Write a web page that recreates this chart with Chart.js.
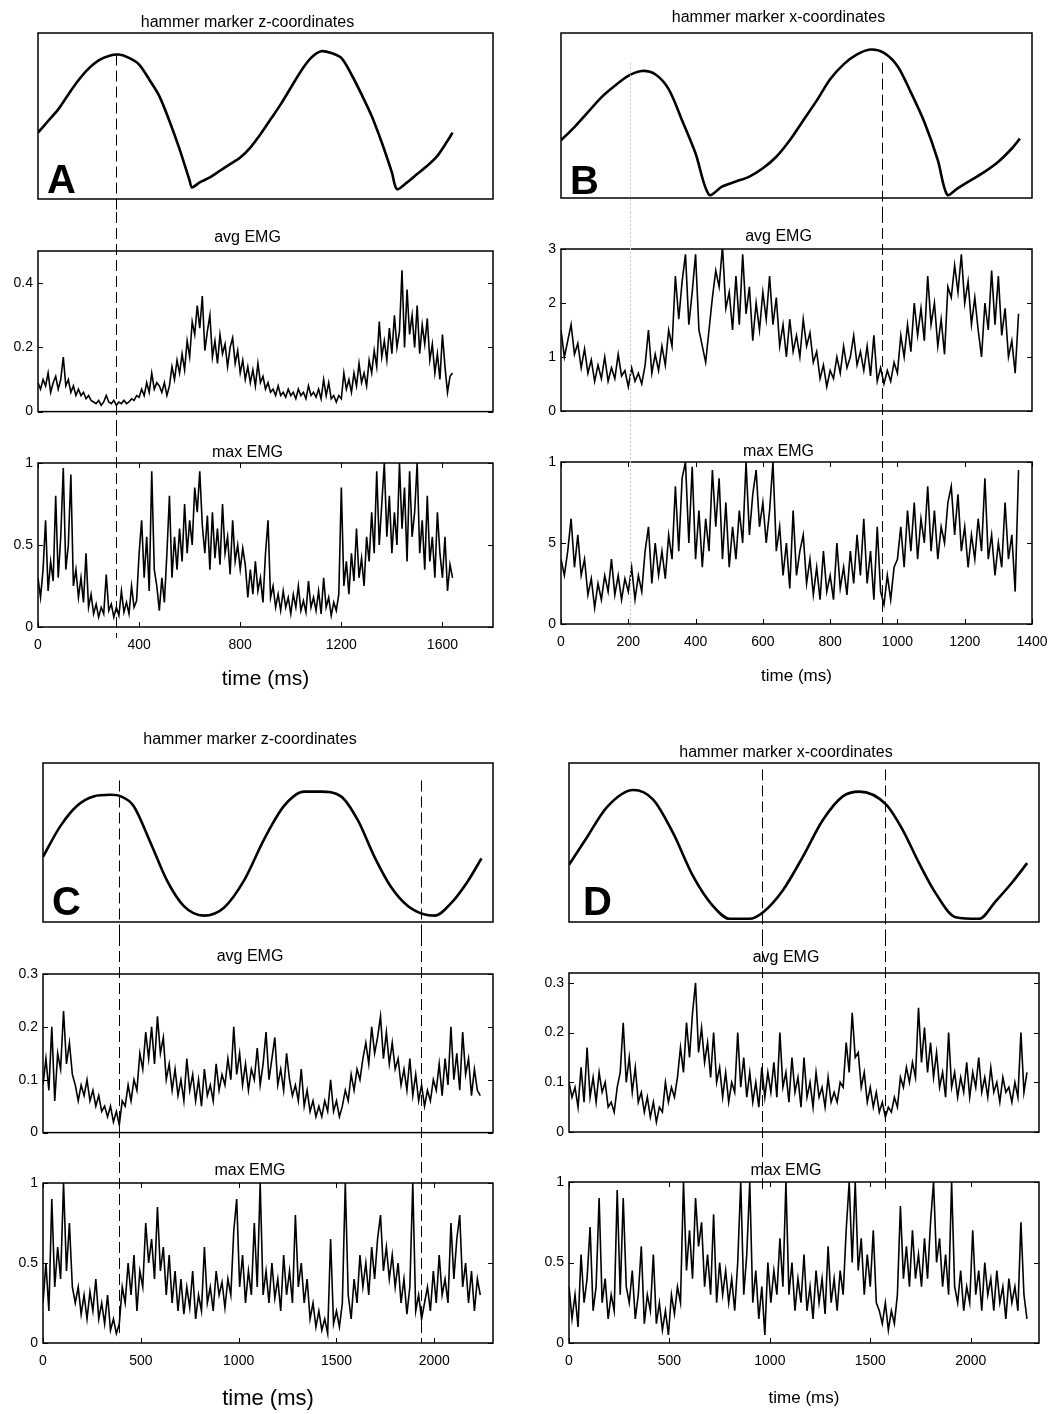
<!DOCTYPE html>
<html>
<head>
<meta charset="utf-8">
<script src="https://cdn.jsdelivr.net/npm/chart.js@4.4.0/dist/chart.umd.min.js"></script>
<style>
html, body { margin: 0; padding: 0; background: #fff; }
#fig { position: relative; width: 1058px; height: 1414px; overflow: hidden; }
canvas { position: absolute; }
</style>
</head>
<body>
<div id="fig"></div>
<script>
// ---- data ----
// A: hammer z-coordinate (normalised 0..1), EMG sampled every 10 ms
const aTopTime = [0,40,80,120,160,200,240,280,320,360,400,440,480,520,560,600,609,640,680,720,760,800,840,880,920,960,1000,1040,1080,1120,1160,1200,1240,1280,1320,1360,1400,1420,1460,1500,1540,1580,1620,1640];
const aTopZ = [0.40,0.47,0.54,0.63,0.715,0.785,0.835,0.862,0.87,0.85,0.81,0.72,0.62,0.47,0.30,0.11,0.07,0.10,0.13,0.17,0.21,0.25,0.31,0.39,0.48,0.57,0.67,0.77,0.85,0.89,0.88,0.85,0.75,0.63,0.50,0.34,0.16,0.06,0.10,0.15,0.20,0.26,0.35,0.40];
const aStep = 10;
const aAvg = [
  0.09,0.07,0.10,0.08,0.12,0.06,0.09,0.11,0.07,0.10,
  0.17,0.08,0.10,0.06,0.08,0.05,0.07,0.05,0.06,0.04,
  0.05,0.035,0.03,0.025,0.035,0.02,0.03,0.05,0.03,0.025,
  0.035,0.02,0.03,0.025,0.035,0.025,0.03,0.04,0.035,0.05,
  0.045,0.07,0.05,0.09,0.06,0.12,0.07,0.09,0.08,0.06,
  0.09,0.05,0.08,0.14,0.10,0.16,0.12,0.18,0.13,0.22,
  0.17,0.28,0.24,0.33,0.26,0.36,0.19,0.25,0.30,0.17,
  0.22,0.15,0.24,0.18,0.21,0.14,0.20,0.23,0.15,0.19,
  0.12,0.16,0.10,0.14,0.09,0.13,0.08,0.15,0.09,0.11,
  0.07,0.09,0.06,0.07,0.05,0.08,0.05,0.06,0.045,0.07,
  0.05,0.06,0.04,0.07,0.05,0.06,0.04,0.08,0.05,0.06,
  0.045,0.07,0.04,0.10,0.05,0.09,0.04,0.05,0.03,0.05,
  0.04,0.12,0.07,0.10,0.06,0.12,0.08,0.15,0.09,0.12,
  0.08,0.16,0.12,0.19,0.14,0.28,0.17,0.22,0.16,0.26,
  0.18,0.30,0.20,0.25,0.44,0.20,0.38,0.24,0.30,0.20,
  0.33,0.18,0.27,0.21,0.29,0.16,0.21,0.12,0.18,0.10,
  0.24,0.14,0.06,0.11,0.12];
const aMax = [
  0.30,0.18,0.35,0.65,0.22,0.40,0.28,0.80,0.30,0.55,
  0.97,0.35,0.50,0.93,0.25,0.35,0.18,0.30,0.15,0.45,
  0.12,0.20,0.08,0.14,0.06,0.12,0.08,0.32,0.10,0.14,
  0.06,0.12,0.07,0.22,0.09,0.15,0.08,0.25,0.12,0.16,
  0.45,0.65,0.30,0.55,0.22,0.95,0.35,0.25,0.10,0.30,
  0.15,0.45,0.80,0.30,0.55,0.35,0.60,0.40,0.75,0.45,
  0.65,0.50,0.85,0.70,0.95,0.62,0.45,0.68,0.35,0.70,
  0.42,0.60,0.38,0.75,0.45,0.55,0.32,0.65,0.40,0.50,
  0.35,0.48,0.38,0.18,0.35,0.20,0.40,0.22,0.30,0.15,
  0.45,0.65,0.18,0.25,0.12,0.20,0.10,0.22,0.12,0.18,
  0.08,0.20,0.12,0.25,0.10,0.16,0.09,0.28,0.12,0.18,
  0.10,0.22,0.08,0.30,0.12,0.18,0.07,0.15,0.10,0.20,
  0.85,0.25,0.40,0.20,0.45,0.28,0.60,0.30,0.42,0.25,
  0.55,0.40,0.70,0.45,0.95,0.50,0.75,1.00,0.55,0.80,
  0.45,0.70,0.50,1.00,0.60,0.85,0.40,0.95,0.55,0.70,
  1.00,0.45,0.65,0.35,0.80,0.40,0.55,0.30,0.70,0.45,
  0.30,0.55,0.22,0.38,0.30];

// B: hammer x-coordinate, EMG every 10 ms
const bTopTime = [0,40,80,120,160,200,240,280,320,360,400,440,480,520,560,600,640,680,720,760,800,840,880,920,960,1000,1040,1080,1120,1148,1180,1220,1260,1300,1340,1364];
const bTopX = [0.35,0.43,0.52,0.61,0.68,0.74,0.77,0.75,0.66,0.47,0.27,0.02,0.07,0.10,0.13,0.18,0.25,0.35,0.47,0.59,0.72,0.81,0.87,0.90,0.88,0.80,0.64,0.46,0.23,0.02,0.06,0.11,0.16,0.22,0.30,0.36];
const bStep = 10;
const bAvg = [
  1.50,1.00,1.30,1.60,1.05,1.25,0.80,1.15,0.70,0.95,
  0.55,0.85,0.60,1.00,0.55,0.80,0.60,1.05,0.65,0.75,
  0.45,0.80,0.55,0.70,0.50,0.85,1.50,0.70,1.05,0.75,
  1.20,0.85,1.50,1.20,2.50,1.70,2.40,2.90,1.60,2.20,
  2.90,1.50,1.20,0.90,1.50,2.10,2.60,2.30,3.05,1.90,
  2.20,1.50,2.50,1.60,2.90,1.80,2.30,1.30,2.00,1.50,
  2.20,1.70,2.50,1.60,2.10,1.20,1.60,1.00,1.70,1.10,
  1.40,1.00,1.70,1.20,1.45,0.90,1.10,0.60,0.85,0.45,
  0.75,0.60,1.00,0.70,1.20,0.80,1.00,1.40,0.85,1.10,
  0.75,1.20,0.65,1.40,0.55,0.80,0.50,0.75,0.55,0.90,
  0.70,1.40,1.00,1.60,1.10,2.00,1.40,1.90,1.30,2.50,
  1.60,2.00,1.20,1.70,1.05,2.30,2.10,2.70,2.20,2.90,
  2.00,2.40,1.60,2.10,1.50,1.00,2.00,1.50,2.60,1.60,
  2.50,1.40,1.90,1.00,1.30,0.70,1.80];
const bMax = [
  0.40,0.30,0.45,0.65,0.35,0.55,0.30,0.40,0.18,0.28,
  0.10,0.25,0.15,0.30,0.20,0.40,0.18,0.30,0.15,0.28,
  0.20,0.35,0.15,0.30,0.20,0.45,0.60,0.25,0.50,0.30,
  0.45,0.28,0.55,0.40,0.85,0.45,0.90,1.00,0.50,0.97,
  0.40,0.70,0.35,0.65,0.45,0.95,0.60,0.90,0.40,0.75,
  0.35,0.60,0.40,0.70,0.50,1.00,0.55,0.80,0.95,0.60,
  0.75,0.50,0.70,1.00,0.45,0.60,0.30,0.50,0.22,0.70,
  0.30,0.45,0.55,0.25,0.40,0.18,0.35,0.15,0.45,0.20,
  0.30,0.15,0.50,0.22,0.35,0.18,0.45,0.25,0.55,0.30,
  0.65,0.25,0.45,0.15,0.60,0.20,0.12,0.30,0.15,0.35,
  0.40,0.60,0.35,0.70,0.45,0.75,0.40,0.65,0.50,0.85,
  0.45,0.70,0.40,0.60,0.50,0.75,0.85,0.55,0.80,0.45,
  0.60,0.35,0.55,0.40,0.65,0.45,0.90,0.40,0.55,0.30,
  0.50,0.35,0.75,0.40,0.55,0.20,0.95];

// C: hammer z-coordinate, EMG every 15 ms
const cTopTime = [0,87,173,258,344,398,463,549,634,720,822,925,1027,1130,1232,1335,1420,1523,1609,1694,1779,1865,1942,2002,2087,2173,2241];
const cTopZ = [0.41,0.60,0.73,0.79,0.80,0.79,0.73,0.50,0.26,0.10,0.04,0.09,0.26,0.52,0.73,0.82,0.82,0.79,0.64,0.41,0.22,0.10,0.05,0.04,0.12,0.26,0.40];
const cStep = 15;
const cAvg = [
  0.09,0.14,0.08,0.20,0.06,0.15,0.12,0.23,0.13,0.17,
  0.11,0.09,0.06,0.09,0.07,0.10,0.06,0.08,0.05,0.07,
  0.04,0.05,0.03,0.05,0.02,0.04,0.015,0.06,0.05,0.09,
  0.06,0.10,0.08,0.15,0.12,0.19,0.14,0.20,0.13,0.22,
  0.15,0.18,0.10,0.13,0.08,0.12,0.07,0.10,0.06,0.14,
  0.08,0.11,0.06,0.10,0.05,0.12,0.07,0.09,0.06,0.13,
  0.08,0.11,0.09,0.14,0.10,0.20,0.11,0.15,0.09,0.13,
  0.08,0.12,0.10,0.16,0.09,0.13,0.19,0.10,0.14,0.18,
  0.09,0.12,0.08,0.15,0.10,0.07,0.09,0.06,0.12,0.05,
  0.08,0.04,0.06,0.03,0.05,0.03,0.06,0.04,0.10,0.04,
  0.06,0.03,0.05,0.08,0.06,0.11,0.08,0.12,0.10,0.14,
  0.17,0.13,0.20,0.15,0.18,0.22,0.14,0.19,0.13,0.17,
  0.12,0.14,0.09,0.12,0.08,0.14,0.07,0.11,0.06,0.09,
  0.05,0.08,0.06,0.10,0.08,0.13,0.07,0.14,0.09,0.20,
  0.10,0.15,0.08,0.19,0.11,0.14,0.07,0.12,0.08,0.07];
const cMax = [
  0.25,0.50,0.20,0.90,0.35,0.60,0.40,1.00,0.45,0.75,
  0.35,0.25,0.35,0.18,0.30,0.15,0.32,0.20,0.40,0.15,
  0.25,0.12,0.30,0.08,0.15,0.06,0.12,0.35,0.25,0.50,
  0.30,0.55,0.20,0.45,0.35,0.75,0.50,0.65,0.40,0.85,
  0.45,0.60,0.30,0.55,0.25,0.45,0.20,0.40,0.18,0.35,
  0.22,0.45,0.15,0.30,0.20,0.60,0.25,0.35,0.20,0.45,
  0.30,0.38,0.22,0.40,0.30,0.70,0.90,0.35,0.55,0.25,
  0.45,0.30,0.75,0.35,1.00,0.30,0.45,0.25,0.50,0.28,
  0.40,0.20,0.55,0.30,0.45,0.25,0.80,0.35,0.50,0.25,
  0.40,0.15,0.25,0.10,0.20,0.08,0.15,0.06,0.65,0.12,
  0.20,0.10,0.25,1.00,0.30,0.15,0.40,0.25,0.55,0.35,
  0.50,0.30,0.60,0.40,0.65,0.80,0.45,0.60,0.40,0.55,
  0.35,0.50,0.25,0.40,0.18,0.35,1.00,0.20,0.30,0.15,
  0.25,0.35,0.20,0.45,0.25,0.55,0.30,0.40,0.25,0.75,
  0.40,0.65,0.80,0.35,0.50,0.25,0.45,0.20,0.40,0.30];

// D: hammer x-coordinate, EMG every 15 ms
const dTopTime = [0,88,187,320,419,518,617,717,800,899,965,1065,1164,1263,1363,1445,1578,1661,1743,1826,1925,2041,2124,2207,2281];
const dTopX = [0.36,0.53,0.72,0.83,0.77,0.56,0.29,0.10,0.02,0.02,0.06,0.20,0.41,0.64,0.79,0.82,0.74,0.58,0.37,0.18,0.03,0.02,0.13,0.25,0.37];
const dStep = 15;
const dAvg = [
  0.10,0.07,0.09,0.05,0.13,0.06,0.17,0.07,0.11,0.06,
  0.12,0.08,0.10,0.05,0.06,0.04,0.09,0.12,0.22,0.10,
  0.15,0.08,0.13,0.06,0.08,0.04,0.07,0.03,0.06,0.02,
  0.05,0.04,0.10,0.06,0.09,0.07,0.11,0.17,0.12,0.22,
  0.15,0.24,0.30,0.16,0.21,0.14,0.18,0.11,0.20,0.10,
  0.13,0.07,0.12,0.06,0.10,0.08,0.20,0.09,0.15,0.07,
  0.12,0.06,0.10,0.05,0.13,0.07,0.12,0.08,0.14,0.07,
  0.20,0.09,0.12,0.06,0.15,0.08,0.11,0.05,0.15,0.07,
  0.10,0.05,0.12,0.07,0.09,0.05,0.11,0.06,0.08,0.06,
  0.10,0.09,0.18,0.12,0.24,0.15,0.16,0.09,0.12,0.06,
  0.09,0.05,0.08,0.04,0.06,0.03,0.05,0.04,0.07,0.05,
  0.11,0.09,0.13,0.10,0.14,0.11,0.25,0.14,0.21,0.12,
  0.18,0.11,0.16,0.09,0.12,0.07,0.20,0.09,0.12,0.07,
  0.11,0.08,0.14,0.07,0.12,0.09,0.15,0.08,0.11,0.07,
  0.13,0.08,0.10,0.06,0.11,0.08,0.09,0.06,0.10,0.07,
  0.20,0.08,0.12];
const dMax = [
  0.35,0.15,0.30,0.10,0.55,0.25,0.40,0.72,0.20,0.35,
  0.90,0.25,0.40,0.15,0.30,0.20,0.95,0.30,0.90,0.35,
  0.25,0.45,0.15,0.30,0.60,0.12,0.30,0.20,0.55,0.12,
  0.25,0.08,0.20,0.05,0.30,0.18,0.35,0.25,1.00,0.45,
  0.70,0.40,0.90,0.60,0.75,0.35,0.55,0.30,0.80,0.25,
  0.50,0.30,0.45,0.25,0.40,0.20,0.50,1.00,0.30,0.55,
  1.00,0.25,0.45,0.15,0.35,0.05,0.50,0.25,0.45,0.30,
  0.65,0.35,1.00,0.30,0.50,0.20,0.40,0.25,0.55,0.20,
  0.35,0.15,0.45,0.25,0.40,0.18,0.60,0.25,0.40,0.20,
  0.45,0.30,0.70,1.00,0.50,1.00,0.45,0.65,0.30,0.55,
  0.35,0.70,0.25,0.20,0.12,0.25,0.08,0.20,0.12,0.30,
  0.85,0.40,0.60,0.35,0.70,0.40,0.55,0.35,0.65,0.40,
  0.75,1.00,0.50,0.65,0.35,0.55,0.30,1.00,0.35,0.25,
  0.45,0.20,0.35,0.25,0.70,0.30,0.45,0.20,0.50,0.30,
  0.40,0.20,0.45,0.25,0.35,0.15,0.40,0.25,0.35,0.20,
  0.75,0.30,0.15];

// tick values and labels
const aXTicks = [0, 400, 800, 1200, 1600];
const aXLabels = ['0', '400', '800', '1200', '1600'];
const bXTicks = [0, 200, 400, 600, 800, 1000, 1200, 1400];
const bXLabels = ['0', '200', '400', '600', '800', '1000', '1200', '1400'];
const cdXTicks = [0, 500, 1000, 1500, 2000];
const cdXLabels = ['0', '500', '1000', '1500', '2000'];
const aAvgTicks = [0, 0.2, 0.4];
const aAvgLabels = ['0', '0.2', '0.4'];
const bAvgTicks = [0, 1, 2, 3];
const bAvgLabels = ['0', '1', '2', '3'];
const cdAvgTicks = [0, 0.1, 0.2, 0.3];
const cdAvgLabels = ['0', '0.1', '0.2', '0.3'];
const maxTicks = [0, 0.5, 1];
const maxLabels = ['0', '0.5', '1'];
const bMaxLabels = ['0', '5', '1'];

// ---- drawing ----
const fig = document.getElementById('fig');
const ML = 36;   // room for y tick labels
const PR = 30;   // right padding of every canvas
const FONT = "'Liberation Sans', Arial, Helvetica, sans-serif";

// matlab-like box with inward ticks, plus the panel letter
const framePlugin = {
  id: 'frame',
  afterDatasetsDraw(chart, args, opts) {
    const { ctx, chartArea: a, scales } = chart;
    ctx.save();
    ctx.strokeStyle = '#000';
    ctx.lineWidth = 1.5;
    ctx.strokeRect(a.left, a.top, a.right - a.left, a.bottom - a.top);
    ctx.lineWidth = 1;
    ctx.beginPath();
    if (opts.ticksX) {
      scales.x.ticks.forEach(t => {
        const px = Math.round(scales.x.getPixelForValue(t.value)) + 0.5;
        ctx.moveTo(px, a.bottom); ctx.lineTo(px, a.bottom - 5);
        ctx.moveTo(px, a.top); ctx.lineTo(px, a.top + 5);
      });
    }
    if (opts.ticksY) {
      scales.y.ticks.forEach(t => {
        const py = Math.round(scales.y.getPixelForValue(t.value)) + 0.5;
        ctx.moveTo(a.left, py); ctx.lineTo(a.left + 5, py);
        ctx.moveTo(a.right, py); ctx.lineTo(a.right - 5, py);
      });
    }
    ctx.stroke();
    if (opts.letter) {
      ctx.fillStyle = '#000';
      ctx.font = "bold 40px 'Liberation Sans', Arial, sans-serif";
      ctx.textBaseline = 'alphabetic';
      ctx.textAlign = 'left';
      ctx.fillText(opts.letter, a.left + opts.letterDx, a.bottom - opts.letterDy);
    }
    ctx.restore();
  }
};
Chart.register(framePlugin);

// vertical marker lines that run through the stacked plots
function dashedLines(lines) {
  return {
    id: 'dashedLines',
    afterDraw(chart) {
      const { ctx, chartArea: a, scales } = chart;
      ctx.save();
      lines.forEach(l => {
        const x = Math.round(scales.x.getPixelForValue(l.t)) + 0.5;
        const y1 = l.fromVal != null ? scales.y.getPixelForValue(l.fromVal) : 0;
        let y2 = chart.height;
        if (l.toBottom != null) y2 = a.bottom + l.toBottom;
        if (l.toTop != null) y2 = a.top + l.toTop;
        ctx.strokeStyle = l.color || '#000';
        ctx.lineWidth = 1;
        ctx.setLineDash(l.dash || [11, 5]);
        ctx.beginPath();
        ctx.moveTo(x, y1);
        ctx.lineTo(x, y2);
        ctx.stroke();
      });
      ctx.restore();
    }
  };
}

function makeChart(c) {
  const cv = document.createElement('canvas');
  cv.width = c.w;
  cv.height = c.h;
  Object.assign(cv.style, { left: c.x + 'px', top: c.y + 'px', width: c.w + 'px', height: c.h + 'px' });
  fig.appendChild(cv);

  const pts = c.values.map((v, i) => ({ x: c.times ? c.times[i] : i * c.step, y: v }));
  const showX = !!c.xTitle;
  const showY = !!c.yTicks;

  return new Chart(cv, {
    type: 'line',
    data: {
      datasets: [{
        data: pts,
        borderColor: '#000',
        borderWidth: c.lw,
        borderJoinStyle: 'miter',
        pointRadius: 0,
        tension: c.tension || 0,
        cubicInterpolationMode: c.mono ? 'monotone' : 'default'
      }]
    },
    options: {
      responsive: false,
      animation: false,
      devicePixelRatio: 1,
      parsing: false,
      layout: { padding: { left: 0, right: PR, top: 0, bottom: c.padB || 0 } },
      plugins: {
        legend: { display: false },
        tooltip: { enabled: false },
        title: {
          display: true,
          text: c.title,
          color: '#000',
          font: { family: FONT, size: 16, weight: 'normal', lineHeight: 1 },
          padding: { top: c.pt, bottom: c.pb }
        },
        frame: { ticksX: showX, ticksY: showY, letter: c.letter || '', letterDx: c.letterDx || 0, letterDy: c.letterDy || 0 }
      },
      scales: {
        x: {
          type: 'linear', min: 0, max: c.xMax,
          display: showX,
          grid: { display: false, drawTicks: false },
          border: { display: false },
          afterBuildTicks: s => { s.ticks = c.xTicks.map(v => ({ value: v })); },
          afterFit: s => { if (showX) s.height = c.axisH; },
          ticks: {
            padding: 10, color: '#000', maxRotation: 0, autoSkip: false,
            font: { family: FONT, size: 14 },
            callback: (v, i) => c.xLabels[i]
          },
          title: {
            display: showX, text: c.xTitle || '', color: '#000',
            font: { family: FONT, size: c.xTitleSize || 17, lineHeight: 1 },
            padding: 0
          }
        },
        y: {
          type: 'linear', min: 0, max: c.yMax,
          display: showY,
          grid: { display: false, drawTicks: false },
          border: { display: false },
          afterBuildTicks: s => { s.ticks = (c.yTicks || []).map(v => ({ value: v })); },
          afterFit: s => { s.width = ML; },
          ticks: {
            padding: 5, color: '#000', autoSkip: false,
            font: { family: FONT, size: 14 },
            callback: (v, i) => c.yLabels[i]
          }
        }
      }
    },
    plugins: [dashedLines(c.lines || [])]
  });
}

function drawPanel(p) {
  const common = { x: p.x, w: p.w, xMax: p.xMax, xTicks: p.xTicks, xLabels: p.xLabels };
  makeChart(Object.assign({}, common, p.rows[0], {
    title: p.title, times: p.topTime, values: p.topValues, lw: 2.6,
    mono: p.mono, tension: p.mono ? 0 : 0.3, yMax: 1,
    letter: p.letter, letterDx: p.letterDx, letterDy: p.letterDy,
    lines: p.marks.map(m => ({ t: m.t, fromVal: m.fromVal, color: m.color, dash: m.dash }))
  }));
  makeChart(Object.assign({}, common, p.rows[1], {
    title: 'avg EMG', step: p.step, values: p.avg, lw: 1.6,
    yMax: p.avgMax, yTicks: p.avgTicks, yLabels: p.avgLabels,
    lines: p.marks.map(m => ({ t: m.t, color: m.color, dash: m.dash }))
  }));
  makeChart(Object.assign({}, common, p.rows[2], {
    title: 'max EMG', step: p.step, values: p.max, lw: 1.6,
    yMax: 1, yTicks: maxTicks, yLabels: p.maxLabels,
    xTitle: 'time (ms)', xTitleSize: p.xTitleSize,
    lines: p.marks.map(m => ({
      t: m.t, color: m.color, dash: m.dash,
      toTop: m.toTop, toBottom: m.toTop == null ? (m.toBottom || 0) : null
    }))
  }));
}

drawPanel({
  x: 2, w: 36 + 455 + PR, xMax: 1800, xTicks: aXTicks, xLabels: aXLabels, step: aStep,
  title: 'hammer marker z-coordinates', topTime: aTopTime, topValues: aTopZ, mono: false,
  letter: 'A', letterDx: 9, letterDy: 6,
  avg: aAvg, avgMax: 0.5, avgTicks: aAvgTicks, avgLabels: aAvgLabels,
  max: aMax, maxLabels: maxLabels, xTitleSize: 21,
  rows: [
    { y: 0, h: 212, pt: 15, pb: 2, padB: 13 },
    { y: 212, h: 213, pt: 18, pb: 5, padB: 12 },
    { y: 425, h: 265, pt: 20, pb: 2, axisH: 63 }
  ],
  marks: [{ t: 309, fromVal: 0.87, toBottom: 11 }]
});

drawPanel({
  x: 525, w: 36 + 471 + PR, xMax: 1400, xTicks: bXTicks, xLabels: bXLabels, step: bStep,
  title: 'hammer marker x-coordinates', topTime: bTopTime, topValues: bTopX, mono: false,
  letter: 'B', letterDx: 9, letterDy: 4,
  avg: bAvg, avgMax: 3, avgTicks: bAvgTicks, avgLabels: bAvgLabels,
  max: bMax, maxLabels: bMaxLabels, xTitleSize: 17,
  rows: [
    { y: 0, h: 212, pt: 10, pb: 7, padB: 14 },
    { y: 212, h: 213, pt: 17, pb: 4, padB: 14 },
    { y: 425, h: 260, pt: 19, pb: 2, axisH: 61 }
  ],
  marks: [
    { t: 954, fromVal: 0.82, toBottom: 0 },
    { t: 205, fromVal: 0.82, toBottom: 3, color: '#c8c8c8', dash: [2, 2] }
  ]
});

drawPanel({
  x: 7, w: 36 + 450 + PR, xMax: 2300, xTicks: cdXTicks, xLabels: cdXLabels, step: cStep,
  title: 'hammer marker z-coordinates', topTime: cTopTime, topValues: cTopZ, mono: true,
  letter: 'C', letterDx: 9, letterDy: 7,
  avg: cAvg, avgMax: 0.3, avgTicks: cdAvgTicks, avgLabels: cdAvgLabels,
  max: cMax, maxLabels: maxLabels, xTitleSize: 22,
  rows: [
    { y: 720, h: 215, pt: 12, pb: 15, padB: 13 },
    { y: 935, h: 211, pt: 14, pb: 9, padB: 13 },
    { y: 1146, h: 264, pt: 17, pb: 4, axisH: 67 }
  ],
  marks: [
    { t: 390, fromVal: 0.89, toBottom: -6 },
    { t: 1933, fromVal: 0.89, toBottom: 0 }
  ]
});

drawPanel({
  x: 533, w: 36 + 470 + PR, xMax: 2340, xTicks: cdXTicks, xLabels: cdXLabels, step: dStep,
  title: 'hammer marker x-coordinates', topTime: dTopTime, topValues: dTopX, mono: true,
  letter: 'D', letterDx: 14, letterDy: 7,
  avg: dAvg, avgMax: 0.32, avgTicks: cdAvgTicks, avgLabels: cdAvgLabels,
  max: dMax, maxLabels: maxLabels, xTitleSize: 17,
  rows: [
    { y: 720, h: 215, pt: 25, pb: 2, padB: 13 },
    { y: 935, h: 211, pt: 15, pb: 7, padB: 14 },
    { y: 1146, h: 261, pt: 17, pb: 3, axisH: 64 }
  ],
  marks: [
    { t: 959, fromVal: 0.96, toTop: 11 },
    { t: 1575, fromVal: 0.96, toTop: 9 }
  ]
});
</script>
</body>
</html>
